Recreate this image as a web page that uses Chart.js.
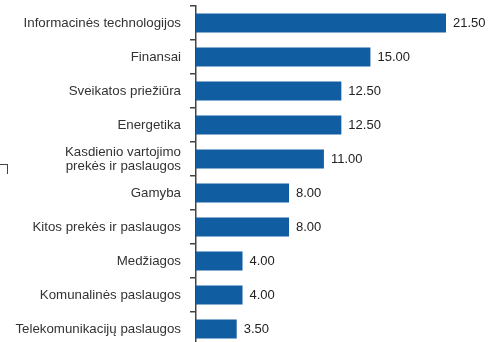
<!DOCTYPE html>
<html>
<head>
<meta charset="utf-8">
<script src="https://cdn.jsdelivr.net/npm/chart.js@4"></script>
<style>
  html, body { margin: 0; padding: 0; background: #fff; overflow: hidden; }
  body { width: 501px; height: 342px; position: relative; }
  #wrap { position: absolute; left: 0; top: 0; width: 501px; height: 346px; }
  .mark { position: absolute; left: 0; top: 164px; width: 7px; height: 9px;
          border-top: 1.5px solid #444; border-right: 1.5px solid #444; }
</style>
</head>
<body>
<div id="wrap"><canvas id="chart"></canvas></div>
<div class="mark"></div>
<script>
// Данные
const categories = [
  'Informacinės technologijos',
  'Finansai',
  'Sveikatos priežiūra',
  'Energetika',
  ['Kasdienio vartojimo', 'prekės ir paslaugos'],
  'Gamyba',
  'Kitos prekės ir paslaugos',
  'Medžiagos',
  'Komunalinės paslaugos',
  'Telekomunikacijų paslaugos'
];
const values = [21.5, 15.0, 12.5, 12.5, 11.0, 8.0, 8.0, 4.0, 4.0, 3.5];

// Подписи значений справа от столбцов
const valueLabels = {
  id: 'valueLabels',
  afterDatasetsDraw(chart) {
    const ctx = chart.ctx;
    const meta = chart.getDatasetMeta(0);
    ctx.save();
    ctx.font = '13px "Liberation Sans", Arial, sans-serif';
    ctx.fillStyle = '#222';
    ctx.textAlign = 'left';
    ctx.textBaseline = 'middle';
    meta.data.forEach((bar, i) => {
      ctx.fillText(values[i].toFixed(2), bar.x + 7, bar.y + 0.5);
    });
    ctx.restore();
  }
};

new Chart(document.getElementById('chart'), {
  type: 'bar',
  data: {
    labels: categories,
    datasets: [{
      data: values,
      backgroundColor: '#105da2',
      borderWidth: 0,
      barPercentage: 0.56,
      categoryPercentage: 1.0
    }]
  },
  options: {
    indexAxis: 'y',
    responsive: true,
    maintainAspectRatio: false,
    animation: false,
    layout: { padding: { top: 6, bottom: 0, left: 0, right: 0 } },
    plugins: {
      legend: { display: false },
      tooltip: { enabled: false }
    },
    scales: {
      x: {
        display: false,
        min: 0,
        max: 26.23
      },
      y: {
        afterFit(scale) {
          scale.width = 196;
          scale.paddingTop = 0;
          scale.paddingBottom = 0;
        },
        border: { display: true, color: '#444', width: 1.5 },
        grid: {
          offset: true,
          drawOnChartArea: false,
          drawTicks: true,
          tickLength: 6,
          color: '#444',
          lineWidth: 1.5
        },
        ticks: {
          padding: 9,
          color: '#333',
          font: { family: '"Liberation Sans", Arial, sans-serif', size: 13.3, lineHeight: 1.05 }
        }
      }
    }
  },
  plugins: [valueLabels]
});
</script>
</body>
</html>
